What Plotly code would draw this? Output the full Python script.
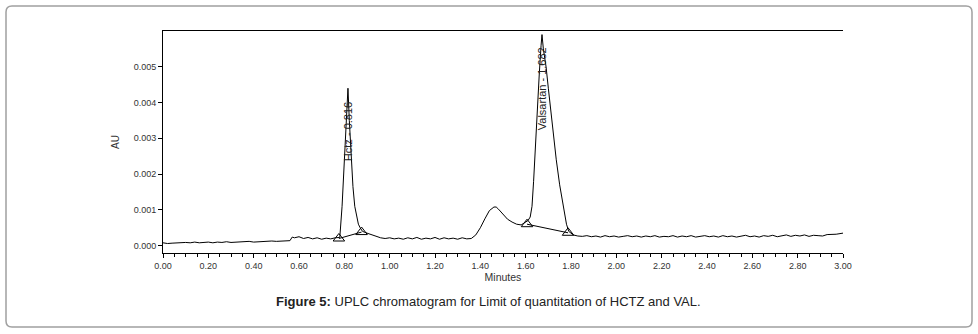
import plotly.graph_objects as go

# ---- data ----
times = [0.00, 0.02, 0.04, 0.06, 0.08, 0.10, 0.12, 0.14, 0.16, 0.18,
         0.20, 0.22, 0.24, 0.26, 0.28, 0.30, 0.32, 0.34, 0.36, 0.38,
         0.40, 0.42, 0.44, 0.46, 0.48, 0.50, 0.52, 0.54, 0.56, 0.57,
         0.58, 0.60, 0.62, 0.64, 0.66, 0.68, 0.70, 0.72, 0.74, 0.76,
         0.78, 0.79, 0.80, 0.81, 0.816, 0.822, 0.83, 0.838, 0.846, 0.854,
         0.862, 0.87, 0.88, 0.90, 0.92, 0.94, 0.96, 0.98, 1.00, 1.02,
         1.04, 1.06, 1.08, 1.10, 1.12, 1.14, 1.16, 1.18, 1.20, 1.22,
         1.24, 1.26, 1.28, 1.30, 1.32, 1.34, 1.36, 1.38, 1.40, 1.42,
         1.44, 1.46, 1.47, 1.48, 1.50, 1.52, 1.54, 1.56, 1.58, 1.60,
         1.61, 1.62, 1.628, 1.635, 1.648, 1.66, 1.668, 1.672, 1.678, 1.69,
         1.70, 1.71, 1.72, 1.735, 1.75, 1.765, 1.78, 1.79, 1.81, 1.83,
         1.85, 1.87, 1.89, 1.91, 1.93, 1.95, 1.97, 1.99, 2.01, 2.03,
         2.05, 2.07, 2.09, 2.11, 2.13, 2.15, 2.17, 2.19, 2.21, 2.23,
         2.25, 2.27, 2.29, 2.31, 2.33, 2.35, 2.37, 2.39, 2.41, 2.43,
         2.45, 2.47, 2.49, 2.51, 2.53, 2.55, 2.57, 2.59, 2.61, 2.63,
         2.65, 2.67, 2.69, 2.71, 2.73, 2.75, 2.77, 2.79, 2.81, 2.83,
         2.85, 2.87, 2.89, 2.91, 2.93, 2.95, 2.97, 3.00]
au = [0.00008, 0.00006, 0.00007, 0.00008, 0.00007, 0.00009, 0.00008, 0.00010, 0.00008, 0.00009,
      0.00010, 0.00008, 0.00010, 0.00009, 0.00011, 0.00009, 0.00010, 0.00011, 0.00010, 0.00012,
      0.00010, 0.00011, 0.00012, 0.00011, 0.00013, 0.00012, 0.00013, 0.00013, 0.00014, 0.00024,
      0.00022, 0.00025, 0.00020, 0.00023, 0.00019, 0.00022, 0.00018, 0.00021, 0.00019, 0.00022,
      0.00023, 0.00110, 0.00240, 0.00370, 0.00440, 0.00350, 0.00240, 0.00165, 0.00110, 0.00080,
      0.00060, 0.00050, 0.00040, 0.00035, 0.00030, 0.00025, 0.00022, 0.00020, 0.00022, 0.00019,
      0.00021, 0.00018, 0.00022, 0.00019, 0.00023, 0.00018, 0.00021, 0.00019, 0.00023, 0.00018,
      0.00022, 0.00019, 0.00021, 0.00018, 0.00022, 0.00019, 0.00020, 0.00030, 0.00050, 0.00075,
      0.00098, 0.00108, 0.00108, 0.00102, 0.00088, 0.00074, 0.00066, 0.00060, 0.00058, 0.00066,
      0.00070, 0.00080, 0.00110, 0.00180, 0.00350, 0.00480, 0.00560, 0.00590, 0.00550, 0.00500,
      0.00440, 0.00380, 0.00320, 0.00240, 0.00170, 0.00110, 0.00060, 0.00040, 0.00030, 0.00027,
      0.00026, 0.00028, 0.00025, 0.00027, 0.00024, 0.00028, 0.00025, 0.00027, 0.00024, 0.00026,
      0.00028, 0.00025, 0.00027, 0.00024, 0.00027, 0.00025, 0.00028, 0.00024, 0.00026, 0.00025,
      0.00028, 0.00024, 0.00027, 0.00025, 0.00028, 0.00024, 0.00026, 0.00028, 0.00025, 0.00027,
      0.00024, 0.00028, 0.00025, 0.00027, 0.00024, 0.00026, 0.00029, 0.00025, 0.00027, 0.00024,
      0.00028, 0.00026, 0.00029, 0.00025, 0.00027, 0.00030, 0.00026, 0.00029, 0.00027, 0.00030,
      0.00026, 0.00029, 0.00028, 0.00027, 0.00031, 0.00031, 0.00032, 0.00035]

# integration baselines (start/end marks)
hctz_base_t = [0.776, 0.876]
hctz_base_au = [0.00020, 0.00038]
val_base_t = [1.606, 1.787]
val_base_au = [0.00060, 0.00036]

peak_labels = ["Hctz - 0.816", "Valsartan - 1.682"]
peak_label_t = [0.816, 1.672]
peak_label_au = [0.0032, 0.0044]

x_ticks = [0.0, 0.2, 0.4, 0.6, 0.8, 1.0, 1.2, 1.4, 1.6, 1.8, 2.0, 2.2, 2.4, 2.6, 2.8, 3.0]
x_ticklabels = ["0.00", "0.20", "0.40", "0.60", "0.80", "1.00", "1.20", "1.40", "1.60", "1.80",
                "2.00", "2.20", "2.40", "2.60", "2.80", "3.00"]
y_ticks = [0.000, 0.001, 0.002, 0.003, 0.004, 0.005]
y_ticklabels = ["0.000", "0.001", "0.002", "0.003", "0.004", "0.005"]

caption = "<b>Figure 5:</b> UPLC chromatogram for Limit of quantitation of HCTZ and VAL."

fig = go.Figure()
fig.add_trace(go.Scatter(x=times, y=au, mode="lines", line=dict(color="black", width=1),
                         hoverinfo="skip", showlegend=False))
for bt, ba in [(hctz_base_t, hctz_base_au), (val_base_t, val_base_au)]:
    fig.add_trace(go.Scatter(x=bt, y=ba, mode="lines+markers",
                             line=dict(color="black", width=1),
                             marker=dict(symbol="triangle-up-open", size=10,
                                         color="black", line=dict(width=1)),
                             showlegend=False, hoverinfo="skip"))

for txt, t, a in zip(peak_labels, peak_label_t, peak_label_au):
    fig.add_annotation(x=t, y=a, text=txt, textangle=-90, showarrow=False,
                       font=dict(family="Arial", size=11, color="#222"), xshift=0)

W, H = 978, 334
ml, mr, mt, mb = 163, 135, 31, 81
pw, ph = W - ml - mr, H - mt - mb


def px(x):
    return (x - ml) / pw


def py(y):
    return (H - mb - y) / ph


# rounded outer frame
x0, x1, y0, y1, r = 6, 972, 6, 327, 6
path = (f"M {px(x0 + r)} {py(y0)} L {px(x1 - r)} {py(y0)} "
        f"Q {px(x1)} {py(y0)} {px(x1)} {py(y0 + r)} "
        f"L {px(x1)} {py(y1 - r)} Q {px(x1)} {py(y1)} {px(x1 - r)} {py(y1)} "
        f"L {px(x0 + r)} {py(y1)} Q {px(x0)} {py(y1)} {px(x0)} {py(y1 - r)} "
        f"L {px(x0)} {py(y0 + r)} Q {px(x0)} {py(y0)} {px(x0 + r)} {py(y0)} Z")
fig.add_shape(type="path", path=path, xref="paper", yref="paper",
              line=dict(color="#a0a0a0", width=1.5))

fig.add_annotation(x=px(488), y=py(311), xref="paper", yref="paper", text=caption,
                   showarrow=False, font=dict(family="Arial", size=13, color="#222"))

fig.update_layout(
    width=W, height=H,
    margin=dict(l=ml, r=mr, t=mt, b=mb),
    paper_bgcolor="white", plot_bgcolor="white",
    font=dict(family="Arial", size=9, color="#333"),
    xaxis=dict(range=[0, 3.0], tickvals=x_ticks, ticktext=x_ticklabels,
               showgrid=False, zeroline=False, showline=True, mirror=True,
               linecolor="black", linewidth=1, ticks="outside", ticklen=4,
               tickcolor="black", tickfont=dict(size=9),
               minor=dict(dtick=0.05, tick0=0, ticks="outside", ticklen=3, tickcolor="black"),
               title=dict(text="Minutes", font=dict(size=10.5), standoff=2)),
    yaxis=dict(range=[-0.000205, 0.0060], tickvals=y_ticks, ticktext=y_ticklabels,
               showgrid=False, zeroline=False, showline=True, mirror=False,
               linecolor="black", linewidth=1, ticks="outside", ticklen=4,
               tickcolor="black", tickfont=dict(size=9),
               title=dict(text="AU", font=dict(size=10), standoff=12)),
)

fig.write_html("out.html", config={"displayModeBar": False},
               post_script="document.body.style.margin='0';document.body.style.overflow='hidden';")
